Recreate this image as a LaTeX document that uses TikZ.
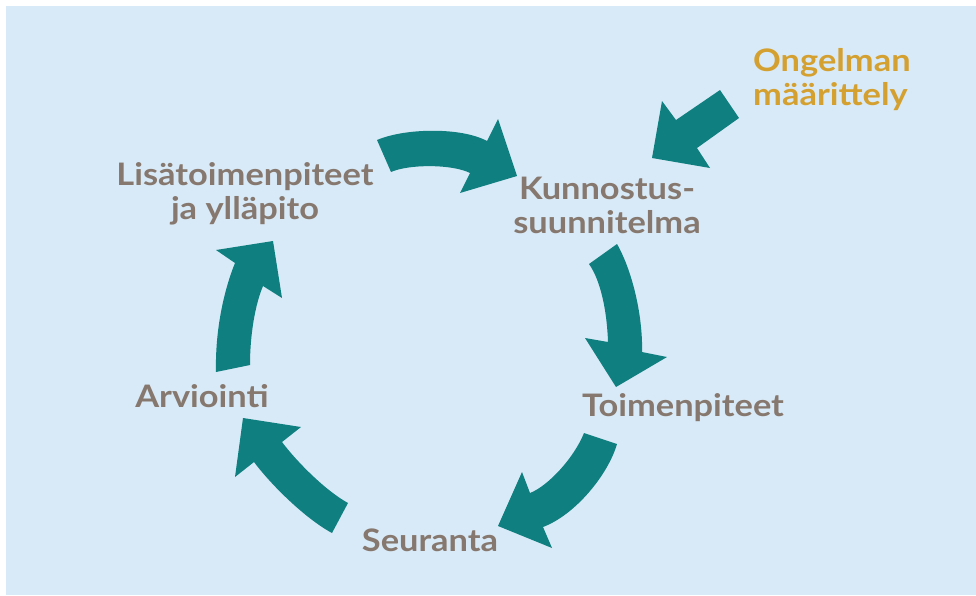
\documentclass[tikz,border=0pt]{standalone}
\usepackage{fontspec}
\setmainfont{Lato}[FakeStretch=1.11]
\usepackage{xcolor}

\definecolor{bgblue}{HTML}{D8EAF7}
\definecolor{cycleteal}{HTML}{107F7F}
\definecolor{labelgray}{HTML}{86786E}
\definecolor{startgold}{HTML}{D4A030}

\begin{document}
\begin{tikzpicture}[x=1pt, y=-1pt,
    lbl/.style={text=labelgray, font=\bfseries\fontsize{31}{34}\selectfont, align=center, inner sep=0pt},
    bigarrow/.style={fill=cycleteal}]
        \useasboundingbox (0,0) rectangle (976,595);
        \fill[bgblue] (6,6) rectangle (976,595);
        % labels of the cycle
        \node[lbl, text=startgold, align=left, anchor=west] (problem) at (753,80) {Ongelman\\määrittely};
        \node[lbl] (plan) at (607,205) {Kunnostus-\\suunnitelma};
        \node[lbl] (actions) at (683,408) {Toimenpiteet};
        \node[lbl] (monitor) at (430,540) {Seuranta};
        \node[lbl] (review) at (202,396) {Arviointi};
        \node[lbl] (upkeep) at (245,194) {Lisätoimenpiteet\\ja ylläpito};
        % start arrow
        \fill[bigarrow] (720,90) -- (676,120) -- (662,101) -- (652,158)
            -- (710,168) -- (697,148) -- (739,118) -- cycle;
        % upkeep -> plan
        \fill[bigarrow] (377,140) .. controls (405,128) and (461,127) .. (487,141)
            -- (498,119) -- (517,176) -- (460,193) -- (470,173)
            .. controls (452,164) and (409,164) .. (391,172) -- cycle;
        % plan -> actions
        \fill[bigarrow] (617,244) .. controls (633,272) and (643,318) .. (642,352)
            -- (667,357) -- (616,387) -- (585,338) -- (608,342)
            .. controls (607,312) and (601,281) .. (589,264) -- cycle;
        % actions -> monitor
        \fill[bigarrow] (617,444) .. controls (608,475) and (575,515) .. (543,527)
            -- (552,548) -- (498,526) -- (522,472) -- (530,493)
            .. controls (548,486) and (574,458) .. (584,433) -- cycle;
        % monitor -> review
        \fill[bigarrow] (332,533) .. controls (306,519) and (272,486) .. (254,462)
            -- (235,477) -- (243,418) -- (301,427) -- (282,442)
            .. controls (297,462) and (326,491) .. (348,503) -- cycle;
        % review -> upkeep
        \fill[bigarrow] (250,365) .. controls (250,335) and (255,305) .. (263,286)
            -- (282,298) -- (273,241) -- (216,250) -- (235,263)
            .. controls (224,290) and (215,330) .. (216,372) -- cycle;
\end{tikzpicture}
\end{document}
